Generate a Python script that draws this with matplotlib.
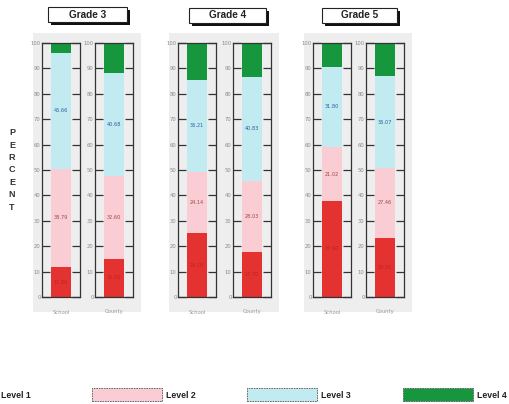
import matplotlib
matplotlib.use("Agg")
import matplotlib.pyplot as plt
from matplotlib.patches import Rectangle

# Percent of students at each performance level, per grade and group
grades = ["Grade 3", "Grade 4", "Grade 5"]
groups = ["School", "County"]
level1 = [[11.80, 15.00], [25.10, 17.70], [37.90, 23.30]]
level2 = [[38.79, 32.60], [24.14, 28.03], [21.02, 27.46]]
level3 = [[45.66, 40.68], [36.21, 40.83], [31.80, 36.07]]
level4 = [[3.75, 11.72], [14.55, 13.44], [9.28, 13.17]]

level_names = ["Level 1", "Level 2", "Level 3", "Level 4"]
colors = ["#e3322f", "#f9cdd3", "#c2ebf1", "#17973d"]
text_colors = ["#b82626", "#9c4a4a", "#2a5f9a", None]

W, H = 509, 404
fig = plt.figure(figsize=(W / 100, H / 100), dpi=100)
fig.patch.set_facecolor("white")


def px_rect(x0, y0, x1, y1, **kw):
    # rectangle given in pixel coords from the top-left corner
    r = Rectangle((x0 / W, 1 - y1 / H), (x1 - x0) / W, (y1 - y0) / H,
                  transform=fig.transFigure, **kw)
    fig.add_artist(r)
    return r


# axis left edges in pixels, one per bar
axis_left = [[42, 95], [178, 233], [313, 366]]
axis_w = 38
y_top, y_bot = 43, 297
title_boxes = [(48, 7, 127, 22), (189, 8, 266, 23), (322, 8, 397, 23)]

for g, grade in enumerate(grades):
    # grey backgrounds behind each bar
    for b in range(2):
        x0 = axis_left[g][b]
        px_rect(x0 - 9, 33, x0 + axis_w + 8, 312, facecolor="#eeeeee",
                edgecolor="none", zorder=0)

    # title box with drop shadow
    bx0, by0, bx1, by1 = title_boxes[g]
    px_rect(bx0 + 3, by0 + 3, bx1 + 3, by1 + 3, facecolor="#111111",
            edgecolor="none", zorder=1)
    px_rect(bx0, by0, bx1, by1, facecolor="white", edgecolor="#222222",
            lw=0.8, zorder=2)
    fig.text((bx0 + bx1) / 2 / W, 1 - (by0 + by1) / 2 / H, grade,
             ha="center", va="center", fontsize=7.2, fontweight="bold",
             family="Liberation Sans", color="#222222", zorder=3)

    for b, group in enumerate(groups):
        x0 = axis_left[g][b]
        ax = fig.add_axes([x0 / W, 1 - y_bot / H, axis_w / W,
                           (y_bot - y_top) / H])
        ax.set_facecolor("none")
        vals = [level1[g][b], level2[g][b], level3[g][b], level4[g][b]]
        bottom = 0
        for k, v in enumerate(vals):
            ax.bar(0, v, width=0.54, bottom=bottom, color=colors[k],
                   edgecolor="none")
            if text_colors[k]:
                ax.text(0, bottom + v / 2, f"{v:.2f}", ha="center",
                        va="center", fontsize=3.6, color=text_colors[k])
            bottom += v
        ax.set_xlim(-0.5, 0.5)
        ax.set_ylim(0, 100)
        ax.set_yticks(range(0, 101, 10))
        ax.set_xticks([0])
        ax.set_xticklabels([group])
        ax.tick_params(axis="y", direction="in", length=6, width=0.9,
                       right=True, labelsize=3.8, labelcolor="#8a8a8a",
                       color="#333333", pad=1)
        ax.tick_params(axis="x", length=0, labelsize=3.8,
                       labelcolor="#9a9a9a", pad=9)
        for s in ax.spines.values():
            s.set_color("#333333")
            s.set_linewidth(0.9)

# stacked vertical axis title
fig.text(12 / W, 1 - 170 / H, "P\nE\nR\nC\nE\nN\nT", ha="center",
         va="center", fontsize=6.5, fontweight="bold", linespacing=1.5,
         family="Liberation Sans", color="#333333")

# legend along the bottom
legend_x = [-75, 92, 247, 403]
for k, name in enumerate(level_names):
    lx = legend_x[k]
    px_rect(lx, 388, lx + 70, 401, facecolor=colors[k], edgecolor="#555555",
            lw=0.6, linestyle=(0, (2, 1)))
    fig.text((max(lx + 74, 1)) / W, 1 - 395 / H, name, ha="left",
             va="center", fontsize=6.3, fontweight="bold",
             family="Liberation Sans", color="#222222")

fig.savefig("out.png", dpi=100)
